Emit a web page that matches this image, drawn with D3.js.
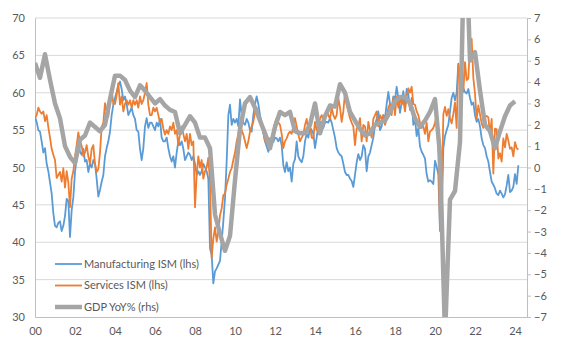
<!DOCTYPE html>
<html>
<head>
<meta charset="utf-8">
<script src="https://cdn.jsdelivr.net/npm/d3@7"></script>
<style>
  body { margin: 0; background: #fff; }
  text { font-family: Lato, "Open Sans", sans-serif; fill: #595959; }
</style>
</head>
<body>
<div id="chart"></div>
<script>
// monthly, Jan 2000 .. Mar 2024
const manufacturingIsm = [
  56.8, 56.1, 55.0, 54.8, 53.5, 52.0, 52.6, 50.5, 49.5, 48.0, 46.5, 43.9,
  42.2, 42.0, 42.6, 42.8, 41.5, 42.2, 43.5, 45.8, 45.5, 40.7, 44.3, 46.0,
  49.4, 51.2, 53.9, 52.1, 51.7, 52.5, 50.8, 51.0, 49.4, 50.5, 50.0, 51.0,
  50.5, 48.5, 46.1, 47.0, 48.1, 49.0, 51.5, 52.6, 53.5, 54.8, 57.0, 58.4,
  59.3, 60.1, 61.0, 61.5, 60.5, 59.0, 59.5, 58.5, 57.0, 57.5, 58.0, 57.0,
  56.5, 55.0, 54.8, 52.5, 51.0, 52.6, 55.5, 56.6, 55.3, 56.0, 56.0, 55.5,
  55.0, 56.0, 55.5, 56.5, 54.0, 53.5, 53.5, 54.0, 52.6, 51.5, 50.8, 51.5,
  50.0, 52.0, 53.5, 53.0, 53.5, 52.5, 51.0, 51.5, 52.0, 51.7, 51.0, 51.5,
  50.5, 49.0, 49.5, 49.0, 49.5, 50.5, 50.0, 49.5, 48.5, 39.2, 38.3, 34.5,
  36.1, 36.5, 37.0, 37.5, 40.1, 42.8, 45.9, 50.8, 57.0, 58.4, 55.7, 56.5,
  56.0, 56.5, 55.5, 59.1, 57.0, 56.0, 55.7, 56.5, 56.0, 55.0, 54.8, 57.0,
  58.5, 59.5, 58.5, 57.0, 56.0, 54.6, 53.5, 52.8, 52.1, 53.0, 53.5, 53.4,
  54.0, 53.9, 53.5, 54.0, 53.0, 50.3, 49.4, 50.7, 49.5, 50.0, 48.1, 50.5,
  51.1, 53.5, 51.5, 51.0, 50.7, 51.5, 53.5, 54.5, 54.0, 55.3, 55.0, 54.5,
  52.6, 54.0, 55.7, 56.1, 55.5, 55.3, 56.0, 56.1, 56.0, 56.6, 56.0, 55.0,
  54.0, 52.6, 52.0, 51.7, 51.5, 50.5, 49.4, 49.0, 49.0, 48.5, 48.2, 47.4,
  49.0, 50.7, 51.8, 51.0, 51.5, 53.0, 52.5, 49.5, 51.5, 52.0, 53.0, 54.0,
  55.7, 56.5, 57.5, 55.0, 55.5, 57.0, 56.5, 58.5, 60.1, 58.5, 58.0, 59.5,
  59.1, 60.8, 59.3, 57.3, 58.7, 60.2, 58.1, 60.5, 59.8, 57.7, 59.3, 55.7,
  56.6, 54.2, 55.3, 52.8, 52.1, 51.7, 51.2, 49.1, 48.1, 48.3, 48.1, 47.8,
  50.9, 50.1, 49.1, 41.5, 43.1, 52.6, 54.2, 55.0, 55.7, 57.5, 59.3, 60.0,
  59.0, 60.0, 63.9, 61.7, 61.0, 60.6, 60.1, 59.9, 60.5, 59.3, 58.4, 58.7,
  57.0, 56.1, 56.5, 55.5, 53.9, 53.0, 52.6, 51.5, 50.8, 49.4, 48.1, 47.7,
  47.2, 46.5, 46.3, 46.9, 46.5, 46.0, 46.4, 47.6, 49.0, 46.7, 46.9, 47.4,
  49.1, 47.8, 50.3
];

const servicesIsm = [
  56.6, 57.0, 58.0, 57.5, 57.2, 57.5, 56.2, 57.0, 55.4, 54.0, 52.5, 51.7,
  51.0, 48.6, 49.0, 49.4, 48.1, 49.9, 47.3, 49.5, 48.0, 44.7, 48.5, 49.5,
  51.5, 53.0, 54.7, 53.5, 52.9, 51.5, 52.0, 53.0, 51.5, 50.5, 52.5, 53.0,
  50.5, 49.4, 49.8, 52.0, 55.4, 56.0, 58.6, 57.5, 56.8, 59.0, 60.4, 58.5,
  58.5, 59.7, 61.3, 58.4, 59.5, 57.5, 58.5, 59.0, 58.4, 59.0, 58.0, 59.0,
  58.4, 59.0, 58.0, 59.5, 58.5, 59.0, 60.0, 61.3, 58.4, 57.0, 57.0, 58.0,
  57.5, 58.0, 57.0, 56.0, 56.5, 55.2, 54.4, 55.0, 54.5, 55.5, 55.0, 56.0,
  54.5, 55.0, 53.0, 54.5, 55.5, 54.5, 53.5, 54.5, 52.5, 54.5, 53.0, 53.5,
  44.7, 49.0, 51.5, 50.0, 51.0, 48.5, 49.5, 50.0, 51.3, 48.0, 37.9, 40.5,
  42.0, 40.1, 41.5, 43.6, 44.5, 46.3, 46.5, 47.7, 48.5, 49.4, 49.9, 51.0,
  52.0, 53.5, 54.5, 55.7, 55.0, 54.4, 53.5, 52.6, 53.5, 54.8, 55.5, 56.1,
  57.5, 58.0, 57.0, 56.6, 55.5, 54.8, 53.5, 53.5, 54.0, 53.8, 54.0, 55.0,
  56.0, 56.6, 56.0, 55.7, 54.5, 52.6, 53.5, 53.9, 54.5, 54.8, 54.5, 55.5,
  56.6, 55.5, 54.4, 53.5, 54.0, 54.4, 55.7, 56.5, 55.0, 55.7, 54.0, 53.9,
  56.1, 55.0, 55.7, 56.5, 57.0, 56.5, 57.0, 57.5, 57.0, 56.5, 58.0, 57.0,
  56.5, 57.0, 59.3, 58.0, 56.1, 57.5, 60.0, 58.4, 57.5, 56.6, 56.0, 55.5,
  53.0, 55.2, 55.5, 56.6, 53.5, 55.7, 55.5, 53.5, 56.1, 55.0, 54.0, 56.5,
  57.0, 57.5, 55.5, 57.0, 56.5, 57.0, 55.7, 56.5, 58.0, 58.5, 57.0, 59.3,
  57.0, 59.5, 58.0, 59.3, 58.4, 59.0, 57.5, 59.5, 60.6, 60.0, 60.8, 58.5,
  58.4, 57.5, 57.0, 56.0, 55.3, 55.5, 54.5, 56.0, 53.5, 54.8, 55.0, 55.3,
  56.0, 57.0, 52.5, 41.8, 45.4, 57.1, 58.1, 56.9, 57.8, 56.6, 55.9, 57.2,
  58.7, 55.3, 63.7, 62.7, 64.0, 60.1, 64.1, 61.7, 61.9, 66.7, 67.2, 62.0,
  59.9, 56.5, 58.3, 57.1, 55.9, 55.3, 56.7, 56.9, 56.7, 54.4, 56.5, 49.2,
  55.2, 55.1, 51.2, 51.9, 50.8, 53.9, 52.7, 54.5, 53.6, 52.5, 52.7, 51.5,
  53.4, 52.6, 52.4
];

// quarterly, first point at Jan 2000
const gdpYoy = [
  4.9, 4.2, 5.3, 4.1, 3.0, 2.3, 1.0, 0.5, 0.2, 1.3, 1.5, 2.1,
  1.9, 1.7, 2.0, 3.2, 4.3, 4.3, 4.1, 3.6, 3.3, 3.85, 3.6, 3.3,
  3.0, 3.2, 2.9, 2.7, 2.6, 1.6, 2.0, 2.4, 2.1, 1.4, 1.4, 0.9,
  -2.2, -3.1, -3.9, -3.2, -0.6, 1.8, 3.0, 3.3, 2.8, 2.2, 1.6, 0.9,
  1.9, 2.6, 2.45, 2.6, 1.7, 1.6, 1.6, 2.0, 3.0, 1.6, 2.4, 2.9,
  2.85, 3.9, 3.5, 2.6, 2.2, 1.8, 1.5, 1.6, 2.0, 2.1, 2.2, 2.6,
  3.1, 3.3, 3.3, 3.0, 2.3, 1.9, 2.2, 2.6, 3.2, 0.6, -7.9, -1.5,
  -1.1, 1.2, 12.2, 5.0, 5.4, 3.6, 2.0, 1.7, 0.9, 1.7, 2.4, 2.9,
  3.1
];

const leftTicks = [30, 35, 40, 45, 50, 55, 60, 65, 70];
const rightTicks = d3.range(-7, 8);
const yearTicks = d3.range(2000, 2025, 2);

const legendItems = [
  {label: 'Manufacturing ISM (lhs)', color: '#5B9BD5', width: 1.8},
  {label: 'Services ISM (lhs)', color: '#ED7D31', width: 1.8},
  {label: 'GDP YoY% (rhs)', color: '#A5A5A5', width: 4.5}
];

const width = 568;
const height = 351;
const plot = {left: 35, right: 527, top: 18, bottom: 317};

const svg = d3.select('#chart').append('svg')
    .attr('width', width)
    .attr('height', height);

const x = d3.scaleLinear().domain([2000, 2024.6]).range([plot.left, plot.right]);
const yL = d3.scaleLinear().domain([30, 70]).range([plot.bottom, plot.top]);
const yR = d3.scaleLinear().domain([-7, 7]).range([plot.bottom, plot.top]);

// gridlines
svg.append('g')
    .selectAll('line')
    .data(leftTicks.slice(1))
    .enter().append('line')
    .attr('x1', plot.left).attr('x2', plot.right)
    .attr('y1', (d) => yL(d)).attr('y2', (d) => yL(d))
    .attr('stroke', '#D9D9D9')
    .attr('stroke-width', 1);

// left axis
const leftAxis = svg.append('g')
    .attr('transform', `translate(${plot.left},0)`)
    .call(d3.axisLeft(yL).tickValues(leftTicks).tickSize(0).tickPadding(10));
leftAxis.select('.domain').attr('stroke', '#BFBFBF');
leftAxis.selectAll('text').style('font-size', '11px').attr('fill', '#595959');

// right axis
const rightAxis = svg.append('g')
    .attr('transform', `translate(${plot.right},0)`)
    .call(d3.axisRight(yR).tickValues(rightTicks).tickSize(4).tickSizeOuter(0).tickPadding(3));
rightAxis.select('.domain').attr('stroke', '#BFBFBF');
rightAxis.selectAll('.tick line').attr('stroke', '#BFBFBF');
rightAxis.selectAll('text').style('font-size', '11px').attr('fill', '#595959');

// bottom axis
const bottomAxis = svg.append('g')
    .attr('transform', `translate(0,${plot.bottom})`)
    .call(d3.axisBottom(x).tickValues(yearTicks).tickSize(0).tickPadding(10)
        .tickFormat((d) => String(d % 100).padStart(2, '0')));
bottomAxis.select('.domain').attr('stroke', '#BFBFBF');
bottomAxis.selectAll('text').style('font-size', '11px').attr('fill', '#595959');

svg.append('clipPath').attr('id', 'plotClip')
    .append('rect')
    .attr('x', plot.left).attr('y', plot.top)
    .attr('width', plot.right - plot.left)
    .attr('height', plot.bottom - plot.top);

const series = svg.append('g').attr('clip-path', 'url(#plotClip)');

const monthLine = d3.line()
    .x((d, i) => x(2000 + i / 12))
    .y((d) => yL(d));

const quarterLine = d3.line()
    .x((d, i) => x(2000 + i / 4))
    .y((d) => yR(d));

series.append('path')
    .datum(manufacturingIsm)
    .attr('d', monthLine)
    .attr('fill', 'none')
    .attr('stroke', legendItems[0].color)
    .attr('stroke-width', legendItems[0].width)
    .attr('stroke-linejoin', 'round');

series.append('path')
    .datum(servicesIsm)
    .attr('d', monthLine)
    .attr('fill', 'none')
    .attr('stroke', legendItems[1].color)
    .attr('stroke-width', legendItems[1].width)
    .attr('stroke-linejoin', 'round');

series.append('path')
    .datum(gdpYoy)
    .attr('d', quarterLine)
    .attr('fill', 'none')
    .attr('stroke', legendItems[2].color)
    .attr('stroke-width', legendItems[2].width)
    .attr('stroke-linejoin', 'round');

// legend
const legend = svg.append('g').attr('transform', 'translate(55,264)');
const entry = legend.selectAll('g')
    .data(legendItems)
    .enter().append('g')
    .attr('transform', (d, i) => `translate(0,${i * 21.5})`);
entry.append('line')
    .attr('x1', 0).attr('x2', 27)
    .attr('stroke', (d) => d.color)
    .attr('stroke-width', (d) => d.width);
entry.append('text')
    .attr('x', 29)
    .attr('dy', '0.35em')
    .style('font-size', '11px')
    .text((d) => d.label);
</script>
</body>
</html>
